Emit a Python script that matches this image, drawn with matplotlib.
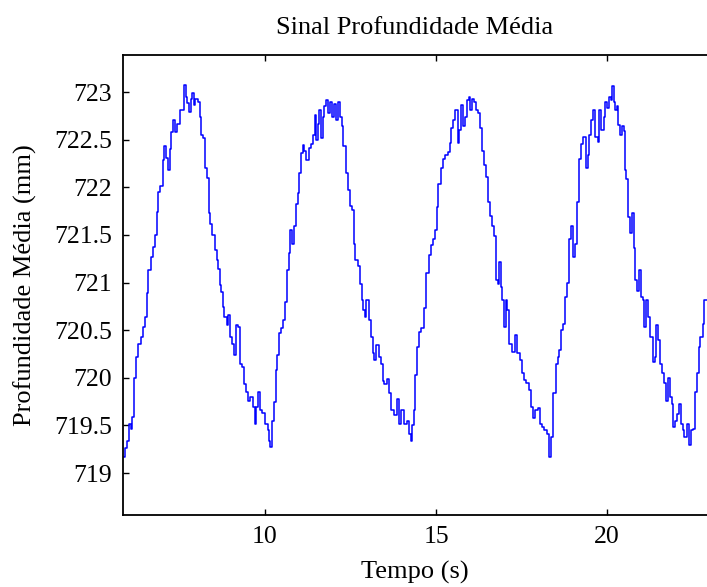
import numpy as np
import matplotlib.pyplot as plt

# Sinal de profundidade média ao longo do tempo
tempo = [5.88, 5.94, 6.00, 6.05, 6.10, 6.15, 6.20, 6.25, 6.33, 6.40, 6.44, 6.52, 6.56, 6.62, 6.69,
         6.74, 6.81, 6.86, 6.91, 6.98, 7.03, 7.08, 7.14, 7.20, 7.23, 7.27, 7.34, 7.41, 7.47, 7.55,
         7.60, 7.66, 7.70, 7.72, 7.81, 7.85, 7.90, 7.93, 7.98, 8.08, 8.13, 8.15, 8.20, 8.28, 8.33,
         8.37, 8.44, 8.49, 8.56, 8.62, 8.66, 8.69, 8.74, 8.78, 8.85, 8.90, 8.95, 9.01, 9.07, 9.12,
         9.19, 9.24, 9.29, 9.36, 9.40, 9.48, 9.54, 9.60, 9.68, 9.71, 9.75, 9.83, 9.88, 9.94, 10.05,
         10.10, 10.13, 10.18, 10.22, 10.29, 10.34, 10.39, 10.44, 10.49, 10.57, 10.62, 10.67, 10.71,
         10.78, 10.82, 10.88, 10.93, 10.98, 11.03, 11.08, 11.12, 11.17, 11.25, 11.31, 11.37, 11.43,
         11.48, 11.51, 11.56, 11.61, 11.66, 11.71, 11.76, 11.80, 11.87, 11.93, 11.99, 12.05, 12.12,
         12.17, 12.22, 12.26, 12.32, 12.39, 12.46, 12.51, 12.58, 12.61, 12.68, 12.73, 12.80, 12.85,
         12.89, 12.94, 12.99, 13.07, 13.12, 13.17, 13.21, 13.29, 13.36, 13.43, 13.46, 13.52, 13.60,
         13.66, 13.72, 13.82, 13.90, 13.95, 14.02, 14.10, 14.18, 14.24, 14.29, 14.33, 14.36, 14.41,
         14.46, 14.53, 14.60, 14.68, 14.75, 14.81, 14.87, 14.94, 14.99, 15.04, 15.10, 15.17, 15.22,
         15.30, 15.39, 15.42, 15.48, 15.52, 15.61, 15.65, 15.69, 15.75, 15.81, 15.87, 15.92, 15.98,
         16.02, 16.07, 16.14, 16.19, 16.27, 16.32, 16.36, 16.44, 16.50, 16.56, 16.60, 16.66, 16.73,
         16.78, 16.82, 16.86, 16.92, 16.96, 17.02, 17.07, 17.10, 17.19, 17.27, 17.35, 17.41, 17.47,
         17.54, 17.60, 17.67, 17.75, 17.80, 17.86, 17.94, 18.00, 18.06, 18.13, 18.20, 18.28, 18.34,
         18.40, 18.46, 18.53, 18.58, 18.63, 18.70, 18.75, 18.79, 18.85, 18.92, 18.97, 19.03, 19.08,
         19.16, 19.21, 19.28, 19.33, 19.41, 19.45, 19.52, 19.55, 19.62, 19.70, 19.75, 19.80, 19.87,
         19.93, 19.96, 20.02, 20.07, 20.13, 20.17, 20.22, 20.27, 20.31, 20.35, 20.41, 20.46, 20.51,
         20.53, 20.60, 20.63, 20.71, 20.76, 20.81, 20.85, 20.91, 20.96, 21.02, 21.06, 21.11, 21.16,
         21.22, 21.31, 21.36, 21.42, 21.45, 21.52, 21.58, 21.65, 21.70, 21.75, 21.80, 21.85, 21.92,
         21.95, 22.01, 22.07, 22.13, 22.18, 22.23, 22.29, 22.36, 22.41, 22.48, 22.53, 22.58, 22.66,
         22.69, 22.77, 22.81, 22.88, 22.95]
prof = [719.17, 719.26, 719.34, 719.52, 719.46, 719.59, 720.00, 720.22, 720.36, 720.43, 720.53,
        720.64, 720.89, 721.13, 721.27, 721.37, 721.50, 721.74, 721.95, 722.01, 722.29, 722.43,
        722.31, 722.18, 722.40, 722.58, 722.71, 722.58, 722.67, 722.81, 722.81, 723.07, 722.95,
        722.89, 722.79, 722.93, 722.99, 722.87, 722.93, 722.90, 722.74, 722.55, 722.52, 722.20,
        722.10, 721.73, 721.62, 721.50, 721.34, 721.24, 721.14, 720.97, 720.90, 720.74, 720.64,
        720.55, 720.66, 720.43, 720.36, 720.24, 720.55, 720.53, 720.15, 720.11, 719.94, 719.85,
        719.76, 719.80, 719.69, 719.52, 719.69, 719.85, 719.66, 719.63, 719.52, 719.45, 719.34,
        719.27, 719.55, 719.75, 720.08, 720.24, 720.47, 720.52, 720.61, 720.80, 721.13, 721.31,
        721.55, 721.41, 721.59, 721.83, 721.94, 722.15, 722.36, 722.44, 722.38, 722.29, 722.41,
        722.46, 722.55, 722.76, 722.50, 722.67, 722.81, 722.52, 722.74, 722.85, 722.92, 722.78,
        722.90, 722.74, 722.88, 722.71, 722.90, 722.74, 722.64, 722.43, 722.15, 721.97, 721.80,
        721.76, 721.41, 721.24, 721.17, 720.99, 720.82, 720.71, 720.64, 720.82, 720.61, 720.43,
        720.26, 720.19, 720.34, 720.22, 720.15, 719.97, 719.94, 719.99, 719.84, 719.66, 719.61,
        719.78, 719.52, 719.66, 719.52, 719.55, 719.41, 719.34, 719.50, 719.66, 720.03, 720.32,
        720.48, 720.52, 720.73, 721.10, 721.29, 721.39, 721.46, 721.55, 721.79, 722.04, 722.20,
        722.30, 722.34, 722.37, 722.47, 722.62, 722.71, 722.81, 722.47, 722.60, 722.86, 722.64,
        722.74, 722.92, 722.95, 722.81, 722.93, 722.90, 722.81, 722.78, 722.62, 722.38, 722.23,
        722.11, 721.85, 721.70, 721.59, 721.49, 721.03, 720.99, 721.22, 720.95, 720.82, 720.53,
        720.82, 720.71, 720.36, 720.27, 720.45, 720.26, 720.19, 720.05, 719.98, 719.95, 719.87,
        719.69, 719.58, 719.66, 719.68, 719.52, 719.48, 719.45, 719.41, 719.17, 719.38, 719.84,
        720.15, 720.22, 720.29, 720.50, 720.57, 720.85, 721.00, 721.46, 721.59, 721.27, 721.41,
        721.85, 722.30, 722.46, 722.53, 722.20, 722.34, 722.55, 722.71, 722.81, 722.53, 722.48,
        722.81, 722.60, 722.74, 722.90, 722.83, 722.95, 722.92, 723.06, 722.90, 722.81, 722.85,
        722.65, 722.55, 722.64, 722.59, 722.18, 722.09, 721.69, 721.52, 721.73, 721.36, 721.03,
        720.91, 721.13, 720.85, 720.82, 720.53, 720.82, 720.64, 720.43, 720.17, 720.22, 720.55,
        720.40, 720.15, 720.05, 719.95, 719.76, 720.00, 719.80, 719.73, 719.48, 719.55, 719.62,
        719.73, 719.52, 719.45, 719.38, 719.52, 719.29, 719.45, 719.46, 719.85, 720.05, 720.32,
        720.43, 720.57, 720.82, 720.82]

xticks = [10, 15, 20]
yticks = [719, 719.5, 720, 720.5, 721, 721.5, 722, 722.5, 723]
ytick_labels = ['719', '719.5', '720', '720.5', '721', '721.5', '722', '722.5', '723']

plt.rcParams['font.family'] = ['Liberation Serif', 'DejaVu Serif']

fig = plt.figure(figsize=(7.07, 5.87), dpi=100)
ax = fig.add_axes([0.174, 0.1227, 0.826, 0.7836])

ax.plot(tempo, prof, color='#0000ff', linewidth=1.1, drawstyle='steps-mid')

ax.set_xlim(5.85, 22.92)
ax.set_ylim(718.56, 723.39)
ax.set_xticks(xticks)
ax.set_yticks(yticks)
ax.set_yticklabels(ytick_labels)

ax.tick_params(direction='in', length=4, width=1, top=True, labelsize=18.5, pad=8)
for s in ['left', 'bottom', 'top']:
    ax.spines[s].set_linewidth(1.3)
ax.spines['right'].set_visible(False)

ax.set_title('Sinal Profundidade Média', fontsize=19, pad=15)
ax.set_xlabel('Tempo (s)', fontsize=19, labelpad=9)
ax.set_ylabel('Profundidade Média (mm)', fontsize=19, labelpad=12)

fig.savefig('out.png', dpi=100)
